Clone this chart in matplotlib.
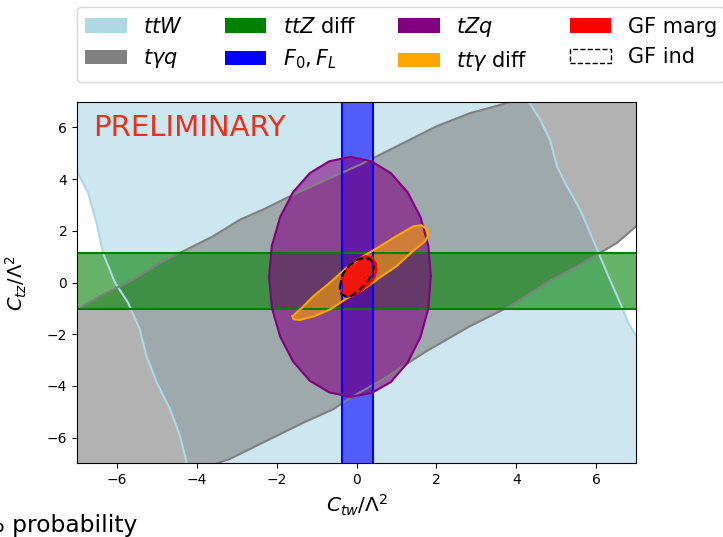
import matplotlib
matplotlib.use("Agg")
import matplotlib.pyplot as plt
from matplotlib.patches import Patch

plt.rcParams["font.family"] = "DejaVu Sans"
plt.rcParams["mathtext.fontset"] = "dejavusans"

# axis range
lim = 7.0

# ttW: band between two contour lines (left edge, right edge)
ttw_left_x = [-7.0, -6.72, -6.51, -6.35, -6.05, -5.72, -5.43, -5.26, -5.0, -4.67, -4.42, -4.25]
ttw_left_y = [4.3, 3.46, 2.3, 1.15, 0.0, -0.78, -1.81, -2.85, -3.87, -4.9, -5.93, -7.0]
ttw_right_x = [4.31, 4.6, 4.85, 5.02, 5.27, 5.6, 5.85, 6.06, 6.31, 6.6, 6.81, 7.0]
ttw_right_y = [7.0, 6.3, 5.5, 4.49, 3.72, 2.82, 1.92, 1.15, 0.24, -0.78, -1.56, -2.07]

# t gamma q: band along the diagonal
tyq_up_x = [-7.0, -6.43, -5.59, -4.92, -4.26, -3.59, -2.92, -2.3, -1.58, -0.75, 0.09, 0.92, 2.0, 2.84, 3.6, 3.85]
tyq_up_y = [-1.04, -0.53, 0.12, 0.76, 1.27, 1.79, 2.43, 2.85, 3.4, 3.98, 4.56, 5.2, 6.04, 6.55, 6.87, 7.0]
tyq_lo_x = [7.0, 6.52, 6.1, 5.52, 4.77, 3.85, 2.84, 1.76, 0.6, -0.2, -0.58, -1.3, -2.0, -3.18, -3.5]
tyq_lo_y = [2.17, 1.53, 1.15, 0.63, 0.0, -0.91, -1.69, -2.65, -3.8, -4.5, -4.9, -5.4, -5.93, -6.83, -7.0]

# ttZ diff: horizontal band
ttz_x = [-7.0, 7.0]
ttz_lo = [-1.04, -1.04]
ttz_hi = [1.15, 1.15]

# F0, FL: vertical band
f0_lo = -0.37
f0_hi = 0.42

# tZq: closed contour
tzq_x = [1.86, 1.8, 1.6, 1.28, 0.86, 0.37, -0.15, -0.68, -1.17, -1.59, -1.91, -2.12,
         -2.19, -2.12, -1.91, -1.59, -1.17, -0.68, -0.15, 0.37, 0.86, 1.28, 1.6, 1.8]
tzq_y = [0.25, 1.42, 2.54, 3.49, 4.23, 4.69, 4.86, 4.69, 4.23, 3.49, 2.54, 1.42,
         0.22, -0.98, -2.1, -3.05, -3.8, -4.25, -4.42, -4.28, -3.85, -3.1, -2.12, -1.0]

# tt gamma diff: closed contour
tta_x = [-1.6, -1.35, -1.08, -0.7, -0.25, 0.15, 0.59, 1.0, 1.42, 1.62, 1.78, 1.8, 1.72, 1.4, 1.0, 0.59, 0.17, -0.25, -0.66, -1.05, -1.42, -1.58]
tta_y = [-1.3, -0.95, -0.53, -0.05, 0.57, 1.0, 1.4, 1.8, 2.17, 2.22, 2.05, 1.85, 1.6, 1.2, 0.63, 0.2, -0.27, -0.62, -1.04, -1.3, -1.45, -1.42]

# GF marginalised / individual
gfm_x = [-0.4, -0.34, -0.18, 0.02, 0.22, 0.38, 0.48, 0.5, 0.45, 0.32, 0.12, -0.08, -0.24, -0.36]
gfm_y = [-0.25, 0.3, 0.65, 0.9, 1.02, 0.98, 0.75, 0.5, 0.2, -0.05, -0.3, -0.5, -0.56, -0.45]
gfi_x = [-0.42, -0.35, -0.18, 0.02, 0.22, 0.36, 0.43, 0.4, 0.28, 0.1, -0.08, -0.24, -0.38]
gfi_y = [-0.2, 0.32, 0.66, 0.88, 0.97, 0.88, 0.62, 0.35, 0.05, -0.25, -0.48, -0.56, -0.45]


def closed(xs, ys):
    return list(xs) + [xs[0]], list(ys) + [ys[0]]


fig = plt.figure(figsize=(7.23, 5.37), dpi=100)
ax = fig.add_axes([0.1065, 0.1369, 0.7732, 0.674])

# ---- fills ----
px = ttw_left_x + [lim, lim] + ttw_right_x[::-1] + [-lim]
py = ttw_left_y + [-lim, ttw_right_y[-1]] + ttw_right_y[::-1] + [lim]
ax.fill(px, py, color="lightblue", alpha=0.6, lw=0)

px = tyq_up_x + [lim] + tyq_lo_x + [-lim]
py = tyq_up_y + [lim] + tyq_lo_y + [-lim]
ax.fill(px, py, color="gray", alpha=0.6, lw=0)

ax.fill_between(ttz_x, ttz_lo, ttz_hi, color="green", alpha=0.6, lw=0)
ax.fill_betweenx([-lim, lim], f0_lo, f0_hi, color="blue", alpha=0.6, lw=0)
ax.fill(tzq_x, tzq_y, color="purple", alpha=0.6, lw=0)
ax.fill(tta_x, tta_y, color="orange", alpha=0.6, lw=0)
ax.fill(gfm_x, gfm_y, color="red", alpha=0.8, lw=0)

# ---- contour lines ----
lw = 1.5
ax.plot(ttw_left_x, ttw_left_y, color="lightblue", lw=lw)
ax.plot(ttw_right_x, ttw_right_y, color="lightblue", lw=lw)
ax.plot(tyq_up_x, tyq_up_y, color="gray", lw=lw)
ax.plot(tyq_lo_x, tyq_lo_y, color="gray", lw=lw)
ax.plot(ttz_x, ttz_lo, color="green", lw=lw)
ax.plot(ttz_x, ttz_hi, color="green", lw=lw)
ax.axvline(f0_lo, color="blue", lw=lw)
ax.axvline(f0_hi, color="blue", lw=lw)
ax.plot(*closed(tzq_x, tzq_y), color="purple", lw=lw)
ax.plot(*closed(tta_x, tta_y), color="orange", lw=lw)
ax.plot(*closed(gfm_x, gfm_y), color="red", lw=lw)
ax.plot(*closed(gfi_x, gfi_y), color="black", lw=lw, ls="--")

ax.set_xlim(-lim, lim)
ax.set_ylim(-lim, lim)
ax.set_xticks([-6, -4, -2, 0, 2, 4, 6])
ax.set_yticks([-6, -4, -2, 0, 2, 4, 6])
ax.tick_params(labelsize=10)
ax.set_xlabel(r"$C_{tw}/\Lambda^2$", fontsize=14.5)
ax.set_ylabel(r"$C_{tz}/\Lambda^2$", fontsize=14)
ax.yaxis.set_label_coords(-0.085, 0.5)

ax.text(0.029, 0.906, "PRELIMINARY", transform=ax.transAxes, fontsize=21,
        color="#e8301c", va="baseline")

handles = [
    Patch(facecolor="lightblue", label=r"$ttW$"),
    Patch(facecolor="gray", label=r"$t\gamma q$"),
    Patch(facecolor="green", label=r"$ttZ$ diff"),
    Patch(facecolor="blue", label=r"$F_0, F_L$"),
    Patch(facecolor="purple", label=r"$tZq$"),
    Patch(facecolor="orange", label=r"$tt\gamma$ diff"),
    Patch(facecolor="red", label="GF marg"),
    Patch(facecolor="none", edgecolor="black", ls="--", label="GF ind"),
]
fig.legend(handles=handles, loc="upper left", bbox_to_anchor=(76.7 / 723, 1 - 6.7 / 537),
           ncol=4, fontsize=15, borderaxespad=0)

fig.text(137 / 723, 5.3 / 537, "95% probability", ha="right", va="baseline", fontsize=16.8)

fig.savefig("out.png", dpi=100)
